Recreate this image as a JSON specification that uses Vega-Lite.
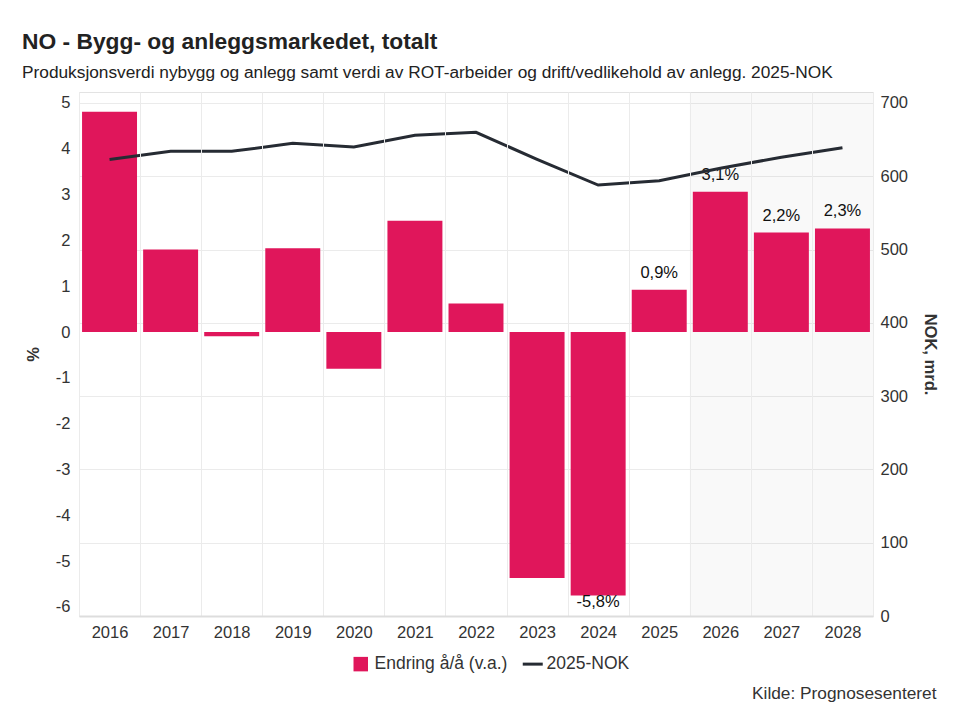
{
  "$schema": "https://vega.github.io/schema/vega-lite/v6.json",
  "width": 794,
  "height": 524,
  "autosize": {"type": "none"},
  "padding": {"left": 79, "top": 92, "right": 107, "bottom": 107},
  "background": "white",
  "config": {
    "font": "Liberation Sans",
    "locale": {"number": {"decimal": ",", "thousands": " ", "grouping": [3], "currency": ["", " kr"], "minus": "-"}},
    "view": {"stroke": "#e3e3e3", "strokeWidth": 1},
    "axis": {
      "labelFont": "Liberation Sans",
      "labelFontSize": 16.5,
      "labelColor": "#333333",
      "titleFont": "Liberation Sans",
      "titleFontSize": 16.5,
      "titleFontWeight": "bold",
      "titleColor": "#333333",
      "gridColor": "#ebebeb",
      "gridWidth": 1,
      "ticks": false,
      "domain": false
    }
  },
  "title": {
    "text": "NO - Bygg- og anleggsmarkedet, totalt",
    "subtitle": "Produksjonsverdi nybygg og anlegg samt verdi av ROT-arbeider og drift/vedlikehold av anlegg. 2025-NOK",
    "anchor": "start",
    "frame": "group",
    "dx": -57,
    "offset": 11,
    "font": "Liberation Sans",
    "fontSize": 22.8,
    "fontWeight": "bold",
    "color": "#222222",
    "subtitleFont": "Liberation Sans",
    "subtitleFontSize": 17.3,
    "subtitleColor": "#222222",
    "subtitlePadding": 10
  },
  "data": {
    "values": [
      {"year": 2016, "pct": 4.81, "nok": 623, "label": ""},
      {"year": 2017, "pct": 1.8, "nok": 634, "label": ""},
      {"year": 2018, "pct": -0.09, "nok": 634, "label": ""},
      {"year": 2019, "pct": 1.83, "nok": 645, "label": ""},
      {"year": 2020, "pct": -0.8, "nok": 640, "label": ""},
      {"year": 2021, "pct": 2.43, "nok": 656, "label": ""},
      {"year": 2022, "pct": 0.62, "nok": 660, "label": ""},
      {"year": 2023, "pct": -5.37, "nok": 623, "label": ""},
      {"year": 2024, "pct": -5.75, "nok": 588, "label": "-5,8%"},
      {"year": 2025, "pct": 0.92, "nok": 594, "label": "0,9%"},
      {"year": 2026, "pct": 3.06, "nok": 611, "label": "3,1%"},
      {"year": 2027, "pct": 2.17, "nok": 626, "label": "2,2%"},
      {"year": 2028, "pct": 2.26, "nok": 639, "label": "2,3%"}
    ]
  },
  "encoding": {
    "x": {
      "field": "year",
      "type": "ordinal",
      "scale": {"paddingInner": 0, "paddingOuter": 0},
      "axis": {
        "title": "Kilde: Prognosesenteret",
        "titleFontWeight": "normal",
        "titleFontSize": 17.3,
        "titleX": 857,
        "titleY": 77,
        "titleAlign": "right",
        "titleAnchor": null,
        "titleBaseline": "middle",
        "labelAngle": 0,
        "labelPadding": 8,
        "grid": true,
        "tickBand": "extent",
        "domain": true,
        "domainColor": "#dddddd",
        "domainWidth": 2
      }
    }
  },
  "layer": [
    {
      "transform": [{"filter": "datum.year >= 2026"}],
      "mark": {"type": "rect", "color": "#000000", "opacity": 0.022}
    },
    {
      "encoding": {
        "y": {
          "field": "pct",
          "type": "quantitative",
          "scale": {"domain": [-6.2, 5.24], "nice": false, "zero": false},
          "axis": {
            "orient": "left",
            "title": "%",
            "values": [-6, -5, -4, -3, -2, -1, 0, 1, 2, 3, 4, 5],
            "grid": false,
            "labelPadding": 9,
            "titlePadding": 14
          }
        }
      },
      "layer": [
        {
          "mark": {"type": "bar", "width": {"band": 0.9}},
          "encoding": {
            "y2": {"datum": 0},
            "color": {
              "datum": "Endring å/å (v.a.)",
              "type": "nominal",
              "scale": {"domain": ["Endring å/å (v.a.)", "2025-NOK"], "range": ["#E0165B", "#262B33"]},
              "legend": {
                "title": null,
                "orient": "none",
                "legendX": 273,
                "legendY": 563,
                "direction": "horizontal",
                "labelFont": "Liberation Sans",
                "labelFontSize": 17.5,
                "labelColor": "#333333",
                "labelOffset": 5,
                "columnPadding": 8,
                "symbolSize": 210,
                "encode": {
                  "symbols": {
                    "update": {
                      "shape": {"signal": "datum.value === '2025-NOK' ? 'stroke' : 'square'"},
                      "fill": {"signal": "datum.value === '2025-NOK' ? 'transparent' : '#E0165B'"},
                      "stroke": {"signal": "datum.value === '2025-NOK' ? '#262B33' : '#E0165B'"},
                      "strokeWidth": {"signal": "datum.value === '2025-NOK' ? 3 : 0"},
                      "size": {"signal": "datum.value === '2025-NOK' ? 400 : 210"},
                      "opacity": {"value": 1}
                    }
                  }
                }
              }
            }
          }
        },
        {
          "transform": [{"filter": "datum.label != '' && datum.pct > 0"}],
          "mark": {"type": "text", "baseline": "alphabetic", "dy": -12, "fontSize": 16.5, "color": "#111111", "font": "Liberation Sans"},
          "encoding": {"text": {"field": "label"}}
        },
        {
          "transform": [{"filter": "datum.label != '' && datum.pct < 0"}],
          "mark": {"type": "text", "baseline": "alphabetic", "dy": 12, "fontSize": 16.5, "color": "#111111", "font": "Liberation Sans"},
          "encoding": {"text": {"field": "label"}}
        }
      ]
    },
    {
      "mark": {"type": "line", "strokeWidth": 3},
      "encoding": {
        "y": {
          "field": "nok",
          "type": "quantitative",
          "scale": {"domain": [0, 715], "nice": false},
          "axis": {
            "orient": "right",
            "title": "NOK, mrd.",
            "values": [0, 100, 200, 300, 400, 500, 600, 700],
            "grid": true,
            "labelPadding": 7,
            "titlePadding": 14,
            "titleAngle": 90
          }
        },
        "color": {"datum": "2025-NOK", "type": "nominal"}
      }
    }
  ],
  "resolve": {"scale": {"y": "independent"}}
}
